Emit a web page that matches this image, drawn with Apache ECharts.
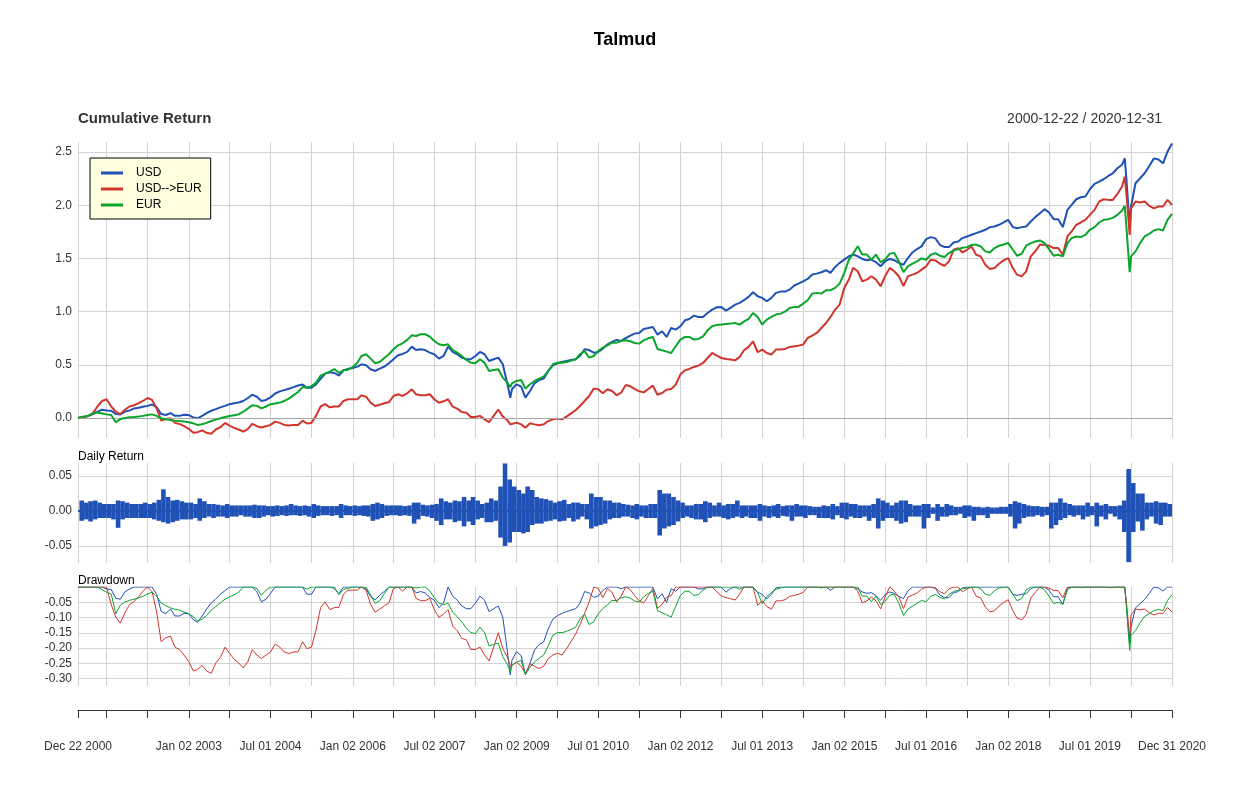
<!DOCTYPE html>
<html><head><meta charset="utf-8">
<script src="https://cdn.jsdelivr.net/npm/echarts@6/dist/echarts.min.js"></script>
<style>html,body{margin:0;padding:0;background:#fff}#c{width:1250px;height:796px}</style>
</head><body><div id="c"></div>
<script>
// ---------- DATA ----------
// Cumulative return dates: start, first of each month 2001-2020, a few extra event dates, end
const startDate = '2000-12-22';
const endDate = '2020-12-31';
const extraDates = ['2008-11-20', '2020-02-19', '2020-03-23'];

// Cumulative returns (rows: start | 2001 ... 2020 | end); 2008 and 2020 rows contain extra dates
const usdCum = [0,
  0.006,0.01,0.02,0.037,0.06,0.077,0.07,0.068,0.037,0.034,0.06,0.07,
  0.09,0.096,0.105,0.114,0.127,0.1,0.037,0.028,0.046,0.02,0.02,0.03,
  0.028,0.006,-0.003,0.02,0.046,0.068,0.083,0.1,0.114,0.13,0.139,0.145,
  0.16,0.188,0.219,0.2,0.16,0.17,0.194,0.23,0.25,0.262,0.275,0.29,
  0.306,0.315,0.284,0.284,0.315,0.367,0.417,0.43,0.423,0.398,0.448,0.46,
  0.47,0.483,0.505,0.495,0.458,0.442,0.464,0.483,0.514,0.552,0.589,0.602,
  0.621,0.671,0.639,0.646,0.639,0.614,0.599,0.558,0.583,0.671,0.621,0.599,
  0.567,0.552,0.552,0.583,0.621,0.599,0.536,0.552,0.567,0.505,0.317,0.19,0.27,
  0.317,0.295,0.191,0.254,0.326,0.357,0.37,0.442,0.495,0.514,0.527,0.536,
  0.545,0.552,0.583,0.646,0.639,0.614,0.621,0.652,0.693,0.715,0.734,0.724,
  0.75,0.774,0.793,0.799,0.837,0.846,0.856,0.784,0.815,0.762,0.846,0.831,
  0.862,0.918,0.931,0.962,0.95,0.95,0.987,1.019,1.041,1.044,1.009,1.034,
  1.066,1.082,1.107,1.138,1.182,1.144,1.129,1.097,1.129,1.176,1.188,1.188,
  1.207,1.245,1.263,1.285,1.307,1.348,1.357,1.37,1.389,1.364,1.42,1.458,
  1.489,1.52,1.536,1.52,1.495,1.483,1.489,1.464,1.426,1.473,1.495,1.483,
  1.458,1.44,1.503,1.556,1.588,1.613,1.681,1.7,1.688,1.628,1.606,1.606,
  1.65,1.659,1.691,1.706,1.722,1.738,1.753,1.769,1.794,1.8,1.816,1.838,
  1.863,1.794,1.784,1.794,1.8,1.847,1.888,1.925,1.963,1.931,1.869,1.869,
  1.794,1.956,2.003,2.056,2.075,2.081,2.15,2.2,2.222,2.244,2.275,2.3,
  2.347,2.38,2.44,2.25,1.80,1.988,2.206,2.253,2.3,2.369,2.44,2.43,2.394,2.503,
  2.58];
const usdEurCum = [0,
  -0.003,0.006,0.02,0.046,0.108,0.16,0.176,0.108,0.059,0.037,0.077,0.108,
  0.12,0.139,0.16,0.188,0.17,0.09,-0.025,-0.01,-0.003,-0.046,-0.056,-0.077,
  -0.102,-0.139,-0.133,-0.117,-0.139,-0.148,-0.108,-0.086,-0.046,-0.071,-0.093,-0.108,
  -0.127,-0.102,-0.056,-0.077,-0.09,-0.077,-0.065,-0.034,-0.046,-0.065,-0.071,-0.065,
  -0.065,-0.025,-0.052,-0.046,0.02,0.108,0.13,0.1,0.108,0.108,0.16,0.176,
  0.176,0.176,0.213,0.2,0.144,0.113,0.125,0.138,0.15,0.207,0.223,0.207,
  0.232,0.27,0.223,0.213,0.213,0.223,0.176,0.144,0.157,0.176,0.107,0.088,
  0.056,0.05,0.01,0.01,0.02,-0.013,-0.038,0.02,0.08,0.013,-0.022,-0.06,-0.06,
  -0.044,-0.06,-0.091,-0.05,-0.06,-0.069,-0.06,-0.028,-0.013,-0.006,-0.013,0.013,
  0.044,0.075,0.113,0.16,0.207,0.276,0.27,0.232,0.27,0.254,0.213,0.238,
  0.31,0.298,0.273,0.251,0.241,0.273,0.304,0.219,0.235,0.266,0.273,0.313,
  0.408,0.448,0.461,0.48,0.492,0.517,0.564,0.611,0.586,0.564,0.555,0.549,
  0.542,0.574,0.636,0.668,0.721,0.618,0.643,0.611,0.596,0.643,0.643,0.649,
  0.668,0.674,0.68,0.69,0.752,0.774,0.799,0.846,0.893,0.95,1.019,1.066,
  1.223,1.301,1.411,1.379,1.285,1.301,1.332,1.301,1.238,1.332,1.411,1.379,
  1.332,1.24,1.331,1.347,1.3625,1.394,1.425,1.4875,1.481,1.45,1.431,1.472,
  1.581,1.597,1.556,1.581,1.6125,1.534,1.519,1.441,1.4,1.409,1.45,1.481,
  1.503,1.409,1.347,1.331,1.378,1.519,1.566,1.628,1.628,1.619,1.597,1.597,
  1.534,1.706,1.753,1.816,1.8375,1.8625,1.909,1.956,2.034,2.056,2.05,2.05,
  2.106,2.175,2.27,2.11,1.72,1.97,2.034,2.025,2.034,1.994,1.97,1.9875,1.9875,2.05,
  2.003];
const eurCum = [0,
  0.012,0.015,0.02,0.043,0.052,0.043,0.034,0.028,-0.04,-0.01,0,0.006,
  0.01,0.015,0.02,0.028,0.034,0.02,-0.003,-0.012,-0.02,-0.025,-0.028,-0.034,
  -0.04,-0.05,-0.065,-0.059,-0.046,-0.028,-0.015,-0.003,0.01,0.018,0.025,0.034,
  0.059,0.09,0.12,0.114,0.09,0.108,0.13,0.136,0.145,0.16,0.182,0.213,
  0.244,0.293,0.284,0.3,0.33,0.398,0.417,0.435,0.46,0.423,0.448,0.454,
  0.478,0.52,0.583,0.599,0.558,0.514,0.527,0.564,0.599,0.646,0.683,0.702,
  0.734,0.777,0.771,0.787,0.787,0.765,0.724,0.693,0.683,0.693,0.639,0.614,
  0.583,0.545,0.52,0.514,0.552,0.52,0.442,0.451,0.458,0.379,0.332,0.29,0.326,
  0.348,0.357,0.276,0.317,0.348,0.37,0.389,0.442,0.505,0.52,0.52,0.527,
  0.539,0.552,0.599,0.63,0.567,0.583,0.63,0.661,0.683,0.708,0.708,0.724,
  0.73,0.721,0.705,0.699,0.73,0.749,0.762,0.649,0.636,0.624,0.611,0.674,
  0.737,0.762,0.762,0.737,0.743,0.768,0.824,0.862,0.875,0.878,0.884,0.887,
  0.893,0.878,0.906,0.931,0.987,0.95,0.878,0.925,0.95,0.972,0.981,1.0,
  1.034,1.044,1.044,1.075,1.107,1.169,1.176,1.169,1.201,1.201,1.223,1.263,
  1.364,1.489,1.545,1.614,1.536,1.536,1.489,1.536,1.464,1.489,1.545,1.552,
  1.473,1.37,1.425,1.45,1.472,1.5,1.4875,1.534,1.55,1.525,1.5125,1.55,
  1.575,1.5875,1.6,1.606,1.628,1.628,1.6125,1.566,1.556,1.597,1.619,1.631,
  1.644,1.581,1.525,1.544,1.619,1.644,1.659,1.669,1.644,1.5875,1.525,1.534,
  1.519,1.644,1.691,1.706,1.7,1.722,1.769,1.794,1.8375,1.8625,1.869,1.881,
  1.909,1.95,1.994,1.80,1.37,1.519,1.566,1.644,1.706,1.731,1.7625,1.775,1.7625,1.8625,
  1.919];

// Daily return of USD: monthly highest and lowest daily values (rows 2001 ... 2020)
const dailyHigh = [
  0.015,0.012,0.014,0.015,0.012,0.01,0.01,0.01,0.015,0.014,0.012,0.01,
  0.01,0.01,0.012,0.01,0.012,0.016,0.031,0.02,0.015,0.016,0.014,0.012,
  0.012,0.01,0.018,0.014,0.01,0.01,0.009,0.008,0.01,0.008,0.008,0.008,
  0.008,0.008,0.009,0.008,0.008,0.007,0.007,0.008,0.007,0.008,0.01,0.008,
  0.007,0.008,0.007,0.01,0.008,0.007,0.007,0.007,0.007,0.01,0.008,0.007,
  0.008,0.007,0.008,0.008,0.01,0.012,0.01,0.008,0.008,0.008,0.008,0.007,
  0.008,0.012,0.012,0.009,0.008,0.009,0.01,0.018,0.014,0.012,0.015,0.014,
  0.02,0.015,0.02,0.015,0.01,0.012,0.018,0.015,0.035,0.068,0.045,0.035,
  0.03,0.025,0.035,0.03,0.02,0.018,0.017,0.015,0.012,0.014,0.016,0.01,
  0.012,0.012,0.01,0.01,0.025,0.02,0.02,0.015,0.015,0.012,0.012,0.01,
  0.009,0.008,0.01,0.008,0.008,0.01,0.01,0.03,0.025,0.025,0.02,0.015,
  0.012,0.008,0.008,0.01,0.01,0.014,0.012,0.008,0.012,0.008,0.01,0.01,
  0.015,0.008,0.008,0.008,0.008,0.01,0.008,0.007,0.008,0.01,0.007,0.008,
  0.008,0.01,0.008,0.008,0.007,0.006,0.006,0.008,0.007,0.01,0.007,0.012,
  0.012,0.01,0.01,0.008,0.008,0.008,0.01,0.018,0.015,0.012,0.008,0.012,
  0.015,0.015,0.01,0.008,0.008,0.01,0.01,0.005,0.01,0.006,0.01,0.008,
  0.006,0.006,0.008,0.008,0.006,0.006,0.005,0.006,0.005,0.005,0.006,0.006,
  0.01,0.014,0.012,0.01,0.008,0.007,0.007,0.006,0.006,0.012,0.012,0.018,
  0.012,0.01,0.008,0.008,0.008,0.012,0.007,0.012,0.008,0.01,0.007,0.007,
  0.008,0.015,0.06,0.04,0.025,0.025,0.012,0.012,0.014,0.012,0.012,0.01];
const dailyLow = [
  -0.014,-0.012,-0.015,-0.012,-0.01,-0.01,-0.01,-0.012,-0.024,-0.012,-0.01,-0.01,
  -0.01,-0.01,-0.01,-0.01,-0.012,-0.014,-0.016,-0.018,-0.016,-0.014,-0.012,-0.012,
  -0.012,-0.01,-0.014,-0.01,-0.008,-0.01,-0.008,-0.008,-0.01,-0.008,-0.008,-0.006,
  -0.008,-0.008,-0.01,-0.01,-0.008,-0.006,-0.008,-0.007,-0.006,-0.007,-0.006,-0.006,
  -0.007,-0.006,-0.008,-0.01,-0.007,-0.006,-0.006,-0.007,-0.006,-0.01,-0.006,-0.006,
  -0.007,-0.006,-0.007,-0.008,-0.014,-0.012,-0.01,-0.007,-0.006,-0.006,-0.007,-0.006,
  -0.007,-0.018,-0.012,-0.007,-0.008,-0.01,-0.014,-0.02,-0.012,-0.012,-0.016,-0.014,
  -0.022,-0.015,-0.02,-0.012,-0.01,-0.016,-0.016,-0.014,-0.038,-0.05,-0.045,-0.03,
  -0.03,-0.032,-0.03,-0.02,-0.018,-0.018,-0.015,-0.014,-0.012,-0.015,-0.014,-0.01,
  -0.015,-0.012,-0.008,-0.012,-0.025,-0.022,-0.02,-0.018,-0.012,-0.01,-0.01,-0.008,
  -0.008,-0.01,-0.012,-0.008,-0.01,-0.01,-0.01,-0.035,-0.025,-0.022,-0.02,-0.015,
  -0.01,-0.008,-0.01,-0.012,-0.012,-0.016,-0.01,-0.008,-0.008,-0.01,-0.012,-0.01,
  -0.008,-0.01,-0.008,-0.01,-0.01,-0.014,-0.008,-0.01,-0.008,-0.01,-0.007,-0.008,
  -0.014,-0.008,-0.008,-0.01,-0.006,-0.006,-0.01,-0.01,-0.01,-0.012,-0.006,-0.01,
  -0.012,-0.008,-0.01,-0.01,-0.008,-0.014,-0.01,-0.025,-0.014,-0.01,-0.01,-0.014,
  -0.018,-0.016,-0.008,-0.008,-0.008,-0.025,-0.01,-0.004,-0.014,-0.008,-0.008,-0.006,
  -0.006,-0.004,-0.01,-0.008,-0.014,-0.006,-0.006,-0.01,-0.004,-0.004,-0.004,-0.004,
  -0.008,-0.025,-0.018,-0.01,-0.008,-0.008,-0.006,-0.008,-0.006,-0.025,-0.02,-0.013,
  -0.01,-0.006,-0.008,-0.006,-0.012,-0.008,-0.006,-0.022,-0.008,-0.012,-0.004,-0.008,
  -0.012,-0.03,-0.073,-0.03,-0.015,-0.028,-0.012,-0.008,-0.018,-0.02,-0.008,-0.008];

// Axis ticks and labels
const xTickDates = ['2000-12-22','2001-07-02','2002-04-01','2003-01-02','2003-10-01','2004-07-01','2005-04-01',
  '2006-01-02','2006-10-02','2007-07-02','2008-04-01','2009-01-02','2009-10-01','2010-07-01','2011-04-01',
  '2012-01-02','2012-10-01','2013-07-01','2014-04-01','2015-01-02','2015-10-01','2016-07-01','2017-04-03',
  '2018-01-02','2018-10-01','2019-07-01','2020-04-01','2020-12-31'];
const xLabelDates = ['2000-12-22','2003-01-02','2004-07-01','2006-01-02','2007-07-02','2009-01-02','2010-07-01',
  '2012-01-02','2013-07-01','2015-01-02','2016-07-01','2018-01-02','2019-07-01','2020-12-31'];
const xLabelTexts = ['Dec 22 2000','Jan 02 2003','Jul 01 2004','Jan 02 2006','Jul 02 2007','Jan 02 2009','Jul 01 2010',
  'Jan 02 2012','Jul 01 2013','Jan 02 2015','Jul 01 2016','Jan 02 2018','Jul 01 2019','Dec 31 2020'];
const cumTicks = [0, 0.5, 1.0, 1.5, 2.0, 2.5];
const dailyTicks = [-0.05, 0, 0.05];
const ddTicks = [-0.30, -0.25, -0.20, -0.15, -0.10, -0.05];
const seriesNames = ['USD', 'USD-->EUR', 'EUR'];

// ---------- BUILD ----------
function ts(s) { const p = s.split('-').map(Number); return Date.UTC(p[0], p[1] - 1, p[2]); }
function pad(n) { return String(n).padStart(2, '0'); }
const cumDates = [startDate];
for (let y = 2001; y <= 2020; y++) for (let m = 1; m <= 12; m++) cumDates.push(`${y}-${pad(m)}-01`);
cumDates.push(...extraDates, endDate);
cumDates.sort();
const cumT = cumDates.map(ts);
const dailyT = [];
for (let y = 2001; y <= 2020; y++) for (let m = 1; m <= 12; m++) dailyT.push(ts(`${y}-${pad(m)}-16`));

function pairs(t, v) { return v.map((x, i) => [t[i], x]); }
function drawdown(c) { let peak = -Infinity; return c.map(x => { const w = 1 + x; peak = Math.max(peak, w); return w / peak - 1; }); }

const COLORS = ['#1f51b7', '#d0362c', '#0aa52b'];
const FONT = "'Liberation Sans', Arial, sans-serif";
const GRID = '#d3d3d3';
const cumSeries = [usdCum, usdEurCum, eurCum];
const tickTs = xTickDates.map(ts);
const labelTs = xLabelDates.map(ts);
const xMin = ts(startDate), xMax = ts(endDate);

function xAxis(i, bottom) {
  return {
    type: 'value', gridIndex: i, min: xMin, max: xMax, scale: true,
    axisLine: { show: !!bottom, onZero: false, lineStyle: { color: '#333', width: 1 } },
    offset: bottom ? 24 : 0,
    axisTick: { show: !!bottom, customValues: tickTs, length: 8, lineStyle: { color: '#333' } },
    axisLabel: { show: !!bottom, customValues: labelTs, margin: 31, fontSize: 12, color: '#333', fontFamily: FONT,
      formatter: v => { let k = 0, d = Infinity; labelTs.forEach((t, j) => { if (Math.abs(t - v) < d) { d = Math.abs(t - v); k = j; } }); return xLabelTexts[k]; } },
    splitLine: { show: true, lineStyle: { color: GRID, width: 1 } }
  };
}
function yAxis(i, min, max, ticks, dec) {
  return {
    type: 'value', gridIndex: i, min, max,
    axisLine: { show: false },
    axisTick: { show: false, customValues: ticks },
    axisLabel: { customValues: ticks, margin: 6, fontSize: 12, color: '#333', fontFamily: FONT, formatter: v => v.toFixed(dec) },
    splitLine: { show: true, lineStyle: { color: GRID, width: 1 } }
  };
}

const series = [];
cumSeries.forEach((c, i) => {
  const s = {
    name: seriesNames[i], type: 'line', xAxisIndex: 0, yAxisIndex: 0, symbol: 'none', color: COLORS[i],
    lineStyle: { width: 2, color: COLORS[i] }, data: pairs(cumT, c), z: 3 + i
  };
  if (i === 0) s.markLine = { silent: true, symbol: 'none', label: { show: false }, lineStyle: { color: '#a6a6a6', width: 1, type: 'solid' }, data: [{ yAxis: 0 }] };
  series.push(s);
});
series.push({ name: 'Daily High', type: 'bar', xAxisIndex: 1, yAxisIndex: 1, barWidth: 4.6, barGap: '-100%', color: COLORS[0],
  data: pairs(dailyT, dailyHigh),
  markLine: { silent: true, symbol: 'none', label: { show: false }, lineStyle: { color: COLORS[0], width: 2, type: 'solid' }, data: [{ yAxis: 0 }] } });
series.push({ name: 'Daily Low', type: 'bar', xAxisIndex: 1, yAxisIndex: 1, barWidth: 4.6, barGap: '-100%', color: COLORS[0],
  data: pairs(dailyT, dailyLow) });
cumSeries.forEach((c, i) => series.push({
  name: seriesNames[i] + ' drawdown', type: 'line', xAxisIndex: 2, yAxisIndex: 2, symbol: 'none', color: COLORS[i],
  lineStyle: { width: 1, color: COLORS[i] }, data: pairs(cumT, drawdown(c)), z: 3 + i
}));

const option = {
  animation: false,
  backgroundColor: '#fff',
  textStyle: { fontFamily: FONT },
  title: [
    { text: 'Talmud', left: 'center', top: 31, padding: 0, textStyle: { fontSize: 18, fontWeight: 'bold', color: '#000', fontFamily: FONT } },
    { text: 'Cumulative Return', left: 78, top: 111, padding: 0, textStyle: { fontSize: 15, fontWeight: 'bold', color: '#333', fontFamily: FONT } },
    { text: '2000-12-22 / 2020-12-31', right: 88, top: 112, padding: 0, textStyle: { fontSize: 14, fontWeight: 'normal', color: '#333', fontFamily: FONT } },
    { text: 'Daily Return', left: 78, top: 451, padding: 0, textStyle: { fontSize: 12, fontWeight: 'normal', color: '#000', fontFamily: FONT } },
    { text: 'Drawdown', left: 78, top: 575, padding: 0, textStyle: { fontSize: 12, fontWeight: 'normal', color: '#000', fontFamily: FONT } }
  ],
  legend: {
    data: seriesNames, orient: 'vertical', left: 90, top: 158, padding: [8, 9, 7, 11],
    backgroundColor: '#ffffe0', borderColor: '#000', borderWidth: 1, borderRadius: 0,
    itemWidth: 22, itemHeight: 3, itemGap: 2, icon: 'rect', selectedMode: false,
    textStyle: { fontSize: 12, color: '#000', fontFamily: FONT, lineHeight: 14, padding: [0, 0, 0, 8] }
  },
  grid: [
    { left: 78, width: 1094, top: 142, height: 296 },
    { left: 78, width: 1094, top: 463, height: 100 },
    { left: 78, width: 1094, top: 587, height: 99 }
  ],
  xAxis: [xAxis(0), xAxis(1), xAxis(2, true)],
  yAxis: [
    yAxis(0, -0.188, 2.594, cumTicks, 1),
    yAxis(1, -0.0743, 0.0686, dailyTicks, 2),
    yAxis(2, -0.3244, 0, ddTicks, 2)
  ],
  series
};
const chart = echarts.init(document.getElementById('c'), null, { renderer: 'canvas' });
chart.setOption(option);
</script></body></html>
